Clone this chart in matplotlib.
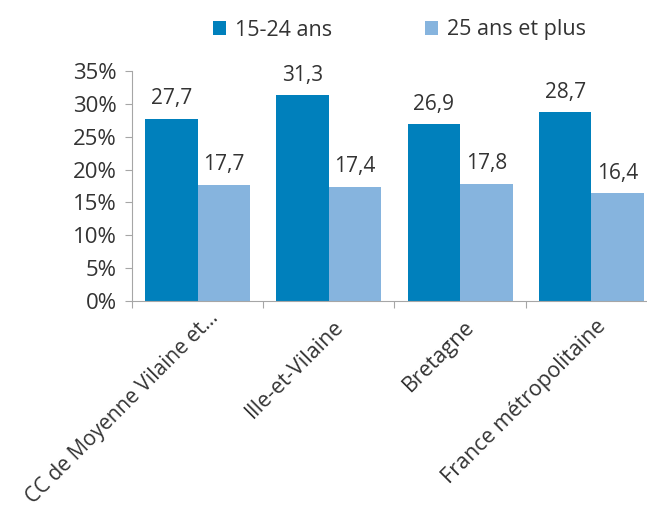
import matplotlib.pyplot as plt
import matplotlib.ticker as mticker
import numpy as np

plt.rcParams['font.family'] = ['Open Sans', 'DejaVu Sans']

categories = ['CC de Moyenne Vilaine et…', 'Ille-et-Vilaine', 'Bretagne', 'France métropolitaine']
series_names = ['15-24 ans', '25 ans et plus']
values_young = [27.7, 31.3, 26.9, 28.7]
values_older = [17.7, 17.4, 17.8, 16.4]
yticks = [0, 5, 10, 15, 20, 25, 30, 35]

colors = ['#0080bc', '#86b4de']
text_color = '#333333'
axis_color = '#a6a6a6'

fig = plt.figure(figsize=(6.47, 5.12), dpi=100)
# axes extends a bit past the right edge, like the original
ax = fig.add_axes([132 / 647, 1 - 301 / 512, 525 / 647, 230 / 512])

x = np.arange(len(categories))
w = 0.4
bars1 = ax.bar(x - w / 2, values_young, w, color=colors[0], label=series_names[0])
bars2 = ax.bar(x + w / 2, values_older, w, color=colors[1], label=series_names[1])

for bars in (bars1, bars2):
    for b in bars:
        ax.annotate(f"{b.get_height():.1f}".replace('.', ','),
                    (b.get_x() + b.get_width() / 2, b.get_height()),
                    xytext=(0, 7), textcoords='offset points',
                    ha='center', va='bottom', fontsize=15, color=text_color)

ax.set_xlim(-0.5, len(categories) - 0.5)
ax.set_ylim(0, 35)
ax.set_yticks(yticks)
ax.yaxis.set_major_formatter(mticker.FuncFormatter(lambda v, p: f"{v:.0f}%"))

# x ticks at category boundaries, rotated labels at centers
ax.set_xticks(np.arange(len(categories) + 1) - 0.5)
ax.set_xticklabels([])
ax.tick_params(axis='x', which='major', length=5, color=axis_color)
ax.tick_params(axis='y', length=5, color=axis_color, labelsize=16,
               labelcolor=text_color, pad=6)

# the truncated first label sits higher and further right in the original
shifts = [(10, -6), (4, -15), (4, -15), (4, -15)]
sizes = [15.0, 15.5, 15.5, 15.5]
for i, cat in enumerate(categories):
    ax.annotate(cat, (i, 0), xycoords=('data', 'axes fraction'),
                xytext=shifts[i], textcoords='offset pixels',
                rotation=45, rotation_mode='anchor', ha='right', va='top',
                fontsize=sizes[i], color=text_color, annotation_clip=False)

for side in ['top', 'right']:
    ax.spines[side].set_visible(False)
for side in ['left', 'bottom']:
    ax.spines[side].set_color(axis_color)

ax.legend(loc='center', bbox_to_anchor=(0.618, 1.0 - 30 / 512), bbox_transform=fig.transFigure,
          ncol=2, frameon=False, fontsize=15.5, handlelength=0.58, handleheight=0.58,
          handletextpad=0.45, columnspacing=4.3, labelcolor=text_color)

plt.savefig('out.png', dpi=100)
